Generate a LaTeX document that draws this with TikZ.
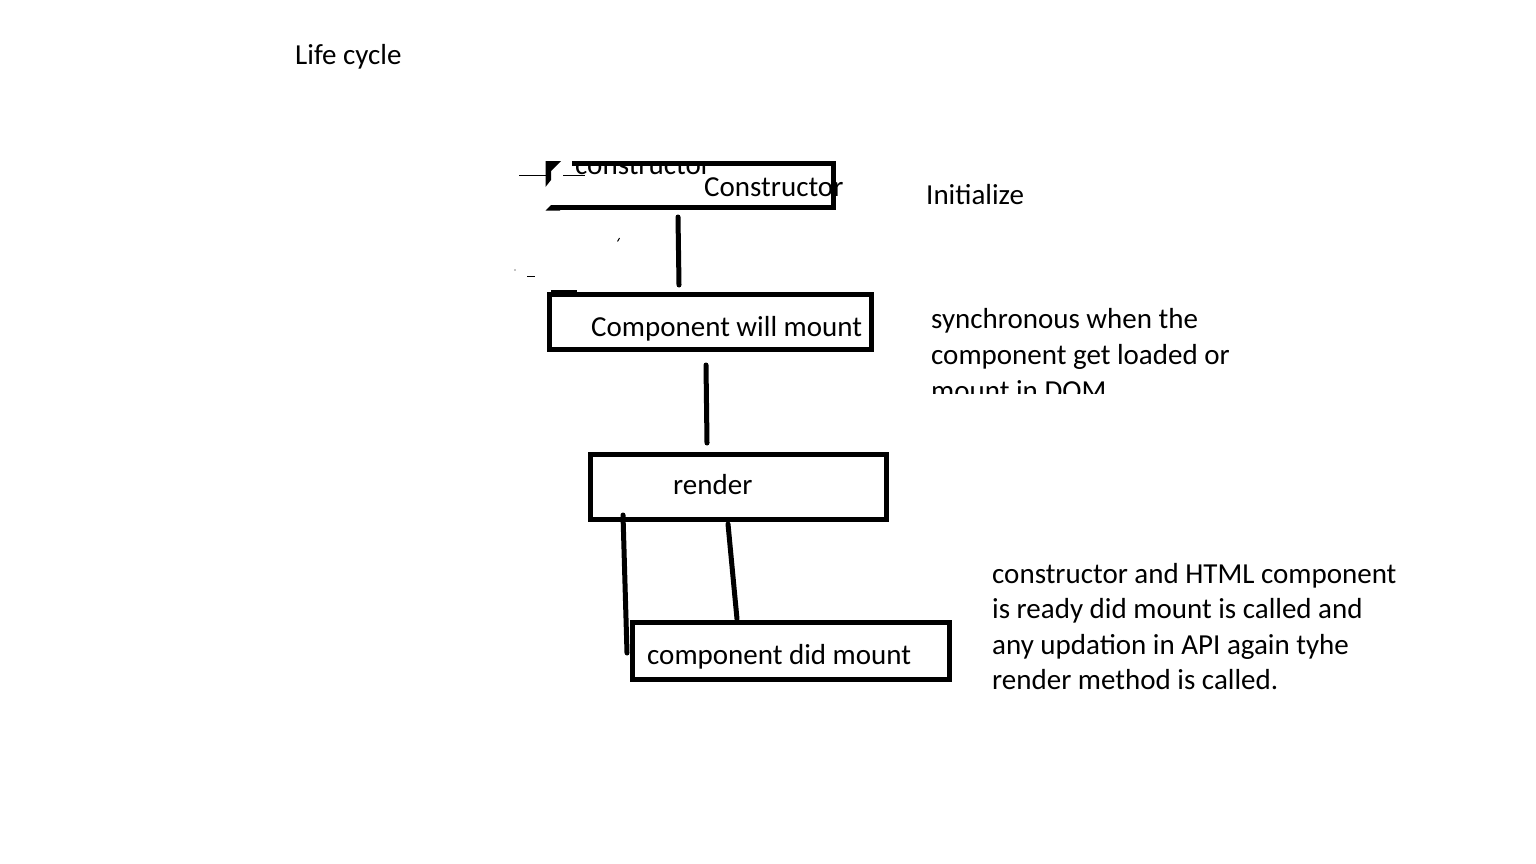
\documentclass[tikz,border=0pt]{standalone}
\usepackage{fontspec}
\usetikzlibrary{calc}
\setmainfont{Carlito}
\begin{document}
\begin{tikzpicture}[x=1pt,y=-1pt,
  boxshape/.style={draw=black,line width=5pt,rectangle,inner sep=0pt,outer sep=0pt,anchor=north west},
  plainshape/.style={rectangle,inner sep=0pt,outer sep=0pt,anchor=north west},
  edge/.style={draw=black,line width=5pt},
  link/.style={draw=black,line width=5pt,line cap=round},
  thin/.style={draw=black,line width=1.5pt},
  txt/.style={inner sep=0pt,anchor=base west,font=\fontsize{29}{36}\selectfont}]
\useasboundingbox[fill=white] (0,0) rectangle (1536,864);

% title
\node[txt] (title) at (295,64.5) {Life cycle};

% box 1 (Constructor) with its broken left edge
\node[plainshape,minimum width=284.5pt,minimum height=44pt] (b1) at (548.5,163.5) {};
\begin{scope}
  \clip (500,162) rectangle (900,260);
  \node[txt] (c1old) at (575,175) {constructor};
\end{scope}
\draw[edge] ($(b1.north west)+(23.5,0)$) -- (b1.north east) -- (b1.south east) -- ($(b1.south west)+(2,0)$);
\fill[black] (545.5,161) -- (561,161) -- (551,171) -- (551,180) -- (545.5,187) -- cycle;
\fill[black] (545.5,210.5) -- (551,205) -- (560,205) -- (560,210.5) -- cycle;
\coordinate (s1a) at (519,175.5);
\coordinate (s1b) at (547,175.5);
\coordinate (s2a) at (563,175.5);
\coordinate (s2b) at (585,175.5);
\draw[thin] (s1a) -- (s1b);
\draw[thin] (s2a) -- (s2b);
\node[txt] (c1) at (704,196) {Constructor};
% small stray marks
\coordinate (m1a) at (617.5,241.5);
\coordinate (m1b) at (619.5,238);
\draw[black,line width=1pt] (m1a) -- (m1b);
\coordinate (m2a) at (527,276);
\coordinate (m2b) at (535,276);
\draw[black,line width=1pt] (m2a) -- (m2b);
\fill[black] (515,270) circle (0.6pt);

% box 2
\node[boxshape,minimum width=321.5pt,minimum height=55pt] (b2) at (549.5,294.5) {};
\coordinate (n2a) at (551,291);
\coordinate (n2b) at (577,291);
\draw[black,line width=1.5pt] (n2a) -- (n2b);
\node[txt] (c2) at (591,336) {Component will mount};

% box 3
\node[boxshape,minimum width=295.5pt,minimum height=64.5pt] (b3) at (590.5,454.5) {};
\node[txt] (c3) at (673,494.5) {render};

% box 4
\node[boxshape,minimum width=316.5pt,minimum height=56.5pt] (b4) at (632.5,622.5) {};
\node[txt] (c4) at (647,664.5) {component did mount};

% connectors
\draw[link] ($(b1.south west)+(129.5,9.5)$) -- ($(b2.north west)+(129.5,-9.5)$);
\draw[link] ($(b2.south west)+(156.5,15.5)$) -- ($(b3.north west)+(116.5,-11.5)$);
\draw[link] ($(b3.south west)+(32.5,-4)$) -- ($(b4.north west)+(-5.5,30.5)$);
\draw[link] ($(b3.south west)+(137.5,5)$) -- ($(b4.north west)+(104.5,-3.5)$);

% side texts
\node[txt] (t1) at (926,204.5) {Initialize};
\node[txt] (t2a) at (931,328.5) {synchronous when the};
\node[txt] (t2b) at (931,364.5) {component get loaded or};
\begin{scope}
  \clip (900,370) rectangle (1300,393);
  \node[txt] (t2c) at (931,400.5) {mount in DOM};
\end{scope}
\node[txt] (t3a) at (992,583) {constructor and HTML component};
\node[txt] (t3b) at (992,618.5) {is ready did mount is called and};
\node[txt] (t3c) at (992,654) {any updation in API again tyhe};
\node[txt] (t3d) at (992,689.5) {render method is called.};
\end{tikzpicture}
\end{document}
